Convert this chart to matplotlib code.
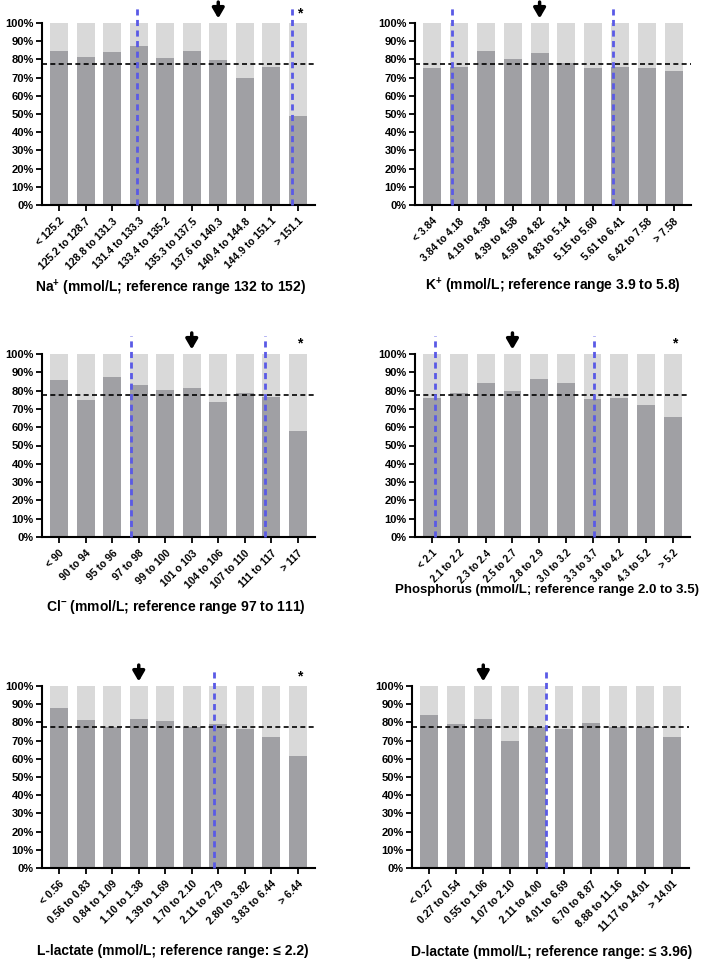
import numpy as np
import matplotlib.pyplot as plt

plt.rcParams['font.family'] = ['Liberation Sans', 'DejaVu Sans']
plt.rcParams['font.weight'] = 'bold'
plt.rcParams['mathtext.fontset'] = 'custom'
plt.rcParams['mathtext.rm'] = 'Liberation Sans:bold'
plt.rcParams['mathtext.bf'] = 'Liberation Sans:bold'

###分组标签
na_cats = ['< 125.2', '125.2 to 128.7', '128.8 to 131.3', '131.4 to 133.3', '133.4 to 135.2',
           '135.3 to 137.5', '137.6 to 140.3', '140.4 to 144.8', '144.9 to 151.1', '> 151.1']
k_cats = ['< 3.84', '3.84 to 4.18', '4.19 to 4.38', '4.39 to 4.58', '4.59 to 4.82',
          '4.83 to 5.14', '5.15 to 5.60', '5.61 to 6.41', '6.42 to 7.58', '> 7.58']
cl_cats = ['< 90', '90 to 94', '95 to 96', '97 to 98', '99 to 100',
           '101 o 103', '104 to 106', '107 to 110', '111 to 117', '> 117']
p_cats = ['< 2.1', '2.1 to 2.2', '2.3 to 2.4', '2.5 to 2.7', '2.8 to 2.9',
          '3.0 to 3.2', '3.3 to 3.7', '3.8 to 4.2', '4.3 to 5.2', '> 5.2']
ll_cats = ['< 0.56', '0.56 to 0.83', '0.84 to 1.09', '1.10 to 1.38', '1.39 to 1.69',
           '1.70 to 2.10', '2.11 to 2.79', '2.80 to 3.82', '3.83 to 6.44', '> 6.44']
dl_cats = ['< 0.27', '0.27 to 0.54', '0.55 to 1.06', '1.07 to 2.10', '2.11 to 4.00',
           '4.01 to 6.69', '6.70 to 8.87', '8.88 to 11.16', '11.17 to 14.01', '> 14.01']

###存活比例(%)
na_vals = [84.6, 81.5, 84.2, 87.2, 81.0, 84.6, 79.5, 69.8, 75.8, 48.9]
k_vals = [75.3, 75.8, 84.4, 80.4, 83.7, 78.0, 75.5, 76.0, 75.5, 73.6]
cl_vals = [85.6, 75.0, 87.2, 83.1, 80.3, 81.4, 73.8, 78.9, 76.5, 57.9]
p_vals = [76.1, 78.5, 84.3, 79.8, 86.3, 84.3, 75.6, 76.1, 72.1, 65.4]
ll_vals = [88.0, 81.4, 77.6, 81.9, 80.8, 77.2, 79.2, 76.5, 72.1, 61.3]
dl_vals = [83.9, 79.0, 81.9, 69.9, 77.2, 76.3, 79.7, 77.2, 77.2, 71.9]

overall = 77.7

###参考范围界线(组位置), 箭头, 星号
na_ref = [2.92, 8.8]
k_ref = [0.73, 6.75]
cl_ref = [2.7, 7.78]
p_ref = [0.11, 6.07]
ll_ref = [5.85]
dl_ref = [4.32]

na_arrow, k_arrow, cl_arrow, p_arrow, ll_arrow, dl_arrow = 6, 4, 5, 3, 3, 2
na_star, k_star, cl_star, p_star, ll_star, dl_star = 9, None, 9, 9, 9, None

na_label = r'Na$^{\mathbf{+}}$ (mmol/L; reference range 132 to 152)'
k_label = r'K$^{\mathbf{+}}$ (mmol/L; reference range 3.9 to 5.8)'
cl_label = r'Cl$^{\mathbf{-}}$ (mmol/L; reference range 97 to 111)'
p_label = 'Phosphorus (mmol/L; reference range 2.0 to 3.5)'
ll_label = 'L-lactate (mmol/L; reference range: ≤ 2.2)'
dl_label = 'D-lactate (mmol/L; reference range: ≤ 3.96)'

dark = '#a0a0a4'
light = '#d9d9d9'
blue = '#5a5ae6'

W, H = 708, 960
fig = plt.figure(figsize=(W / 100, H / 100), dpi=100)

def panel(rect_px, cats, vals, refs, arrow, star, label, lab_xy, xfs=7.5, lfs=10):
    l, r, t, b = rect_px
    ax = fig.add_axes([l / W, 1 - b / H, (r - l) / W, (b - t) / H])
    x = np.arange(len(cats))
    vals = np.array(vals)
    ax.bar(x, vals, width=0.67, color=dark, zorder=2)
    ax.bar(x, 100 - vals, bottom=vals, width=0.67, color=light, zorder=2)
    ax.set_xlim(-0.65, 9.65)
    ax.set_ylim(0, 100)
    ax.set_yticks(np.arange(0, 101, 10))
    ax.set_yticklabels(['%d%%' % v for v in range(0, 101, 10)], fontsize=8, fontweight='bold')
    ax.set_xticks(x)
    ax.set_xticklabels(cats, rotation=45, ha='right', rotation_mode='anchor', fontsize=xfs,
                       fontweight='bold')
    ax.tick_params(axis='both', length=4, width=1.3, color='black', pad=2)
    ax.tick_params(axis='x', pad=4)
    for s in ['top', 'right']:
        ax.spines[s].set_visible(False)
    for s in ['left', 'bottom']:
        ax.spines[s].set_linewidth(1.5)
    ax.axhline(overall, color='black', ls=(0, (3, 2)), lw=1.2, zorder=4, clip_on=False)
    for rx in refs:
        ax.plot([rx, rx], [0, 110], color=blue, ls=(0, (2.2, 1.6)), lw=2, zorder=5, clip_on=False)
    if arrow is not None:
        ax.annotate('', xy=(arrow, 102.5), xytext=(arrow, 111.5), annotation_clip=False,
                    arrowprops=dict(arrowstyle='-|>,head_width=0.35,head_length=0.6',
                                    color='black', lw=2.5, shrinkA=0, shrinkB=0))
    if star is not None:
        ax.text(star + 0.08, 105.5, '*', ha='center', va='center', fontsize=10, fontweight='bold')
    ax.set_xlabel(label, fontsize=lfs, fontweight='bold')
    ax.xaxis.label.set_va('center')
    ax.xaxis.set_label_coords(*lab_xy)
    return ax

panel((42, 315, 23, 205), na_cats, na_vals, na_ref, na_arrow, na_star, na_label, (0.47, -0.456))
panel((415, 691, 23, 205), k_cats, k_vals, k_ref, k_arrow, k_star, k_label, (0.50, -0.445))
panel((42, 315, 354, 537), cl_cats, cl_vals, cl_ref, cl_arrow, cl_star, cl_label, (0.49, -0.38))
panel((415, 690, 354, 537), p_cats, p_vals, p_ref, p_arrow, p_star, p_label, (0.48, -0.29),
      xfs=7, lfs=9.5)
panel((42, 315, 686, 868), ll_cats, ll_vals, ll_ref, ll_arrow, ll_star, ll_label, (0.48, -0.454))
panel((412, 689, 686, 868), dl_cats, dl_vals, dl_ref, dl_arrow, dl_star, dl_label, (0.505, -0.46))

fig.savefig('out.png', dpi=100)
